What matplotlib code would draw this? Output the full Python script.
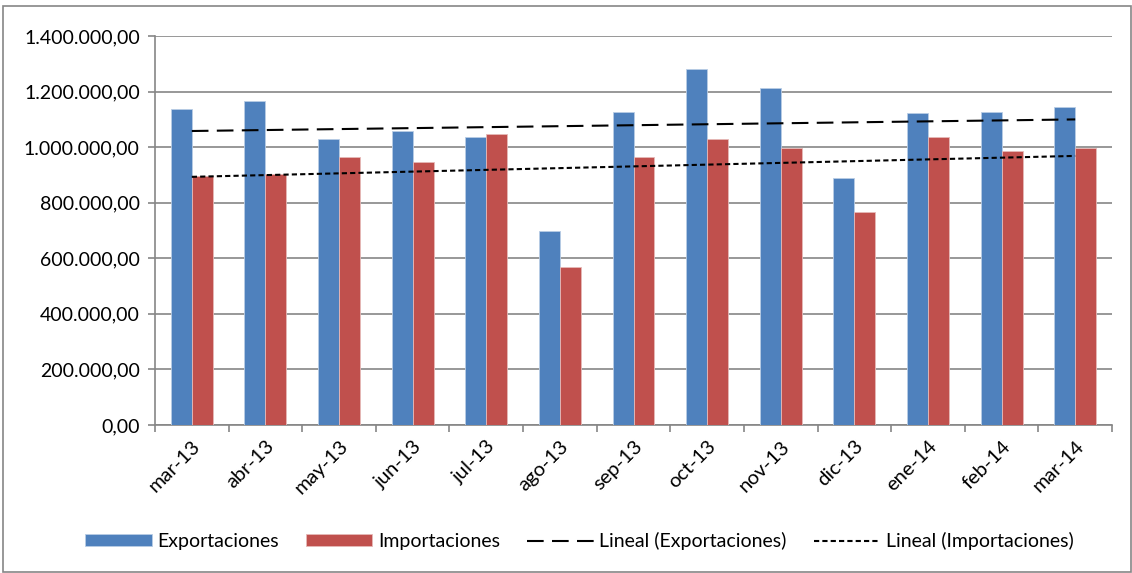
import numpy as np
import matplotlib.pyplot as plt
from matplotlib.ticker import FuncFormatter, FixedLocator
from matplotlib.patches import Rectangle

plt.rcParams["font.family"] = ["Lato", "DejaVu Sans"]

meses = ["mar-13", "abr-13", "may-13", "jun-13", "jul-13", "ago-13", "sep-13",
         "oct-13", "nov-13", "dic-13", "ene-14", "feb-14", "mar-14"]
exportaciones = [1138000, 1166000, 1029000, 1057000, 1037000, 697000, 1128000,
                 1283000, 1212000, 888000, 1122000, 1125000, 1144000]
importaciones = [896000, 902000, 964000, 948000, 1047000, 568000, 963000,
                 1028000, 996000, 765000, 1038000, 987000, 998000]

azul = "#4f81bd"
rojo = "#c0504d"

fig = plt.figure(figsize=(11.32, 5.73), dpi=100)
ax = fig.add_axes([155 / 1132, 1 - 425 / 573, (1112 - 155) / 1132, (425 - 36) / 573])

x = np.arange(len(meses))
w = 0.285
b1 = ax.bar(x - w / 2, exportaciones, w, color=azul, edgecolor="#b9cde5", linewidth=0.6,
            label="Exportaciones", zorder=3)
b2 = ax.bar(x + w / 2, importaciones, w, color=rojo, edgecolor="#e6b9b8", linewidth=0.6,
            label="Importaciones", zorder=3)

# lineas de tendencia (regresion lineal)
pe = np.polyfit(x, exportaciones, 1)
pi = np.polyfit(x, importaciones, 1)
l1, = ax.plot(x, np.polyval(pe, x), color="black", lw=1.5, dashes=(8, 4),
              label="Lineal (Exportaciones)", zorder=4)
l2, = ax.plot(x, np.polyval(pi, x), color="black", lw=1.5, dashes=(2.5, 1.5),
              label="Lineal (Importaciones)", zorder=4)

ax.set_xlim(-0.5, len(meses) - 0.5)
ax.set_ylim(0, 1400000)
ax.set_yticks(np.arange(0, 1400001, 200000))
ax.yaxis.set_major_formatter(FuncFormatter(
    lambda v, p: f"{v:,.2f}".replace(",", "X").replace(".", ",").replace("X", ".")))
ax.grid(axis="y", color="#868686", lw=1.2, zorder=0)

ax.set_xticks(x)
ax.set_xticklabels(meses, rotation=45, ha="right", rotation_mode="anchor", fontsize=14.5)
ax.xaxis.set_minor_locator(FixedLocator(np.arange(-0.5, len(meses), 1)))
ax.tick_params(axis="x", which="major", length=0, pad=9)
ax.tick_params(axis="x", which="minor", length=5, color="#868686", width=1.2)
ax.tick_params(axis="y", length=5, color="#868686", width=1.2, labelsize=14, pad=6)

for s in ["top", "right"]:
    ax.spines[s].set_visible(False)
for s in ["left", "bottom"]:
    ax.spines[s].set_color("#868686")
    ax.spines[s].set_linewidth(1.2)

fig.legend(handles=[b1, b2, l1, l2], loc="center", bbox_to_anchor=(0.512, 1 - 541 / 573),
           ncol=4, frameon=False, fontsize=14, handlelength=3.4, handleheight=0.6,
           columnspacing=1.4, handletextpad=0.3)

fig.patches.append(Rectangle((3 / 1132, 0.002), 1 - 4 / 1132, 1 - 6 / 573 - 0.002,
                             transform=fig.transFigure, fill=False,
                             edgecolor="#868686", lw=1.2))

fig.savefig("out.png", dpi=100)
